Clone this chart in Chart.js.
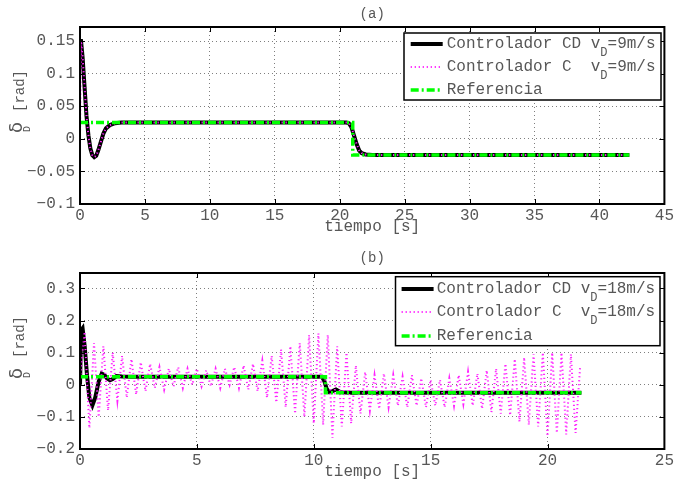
<!DOCTYPE html>
<html>
<head>
<meta charset="utf-8">
<script src="https://cdn.jsdelivr.net/npm/chart.js@4.4.0/dist/chart.umd.min.js"></script>
<style>
body{margin:0;background:#fff;}
canvas{display:block;}
</style>
</head>
<body>
<canvas id="chartA" width="676" height="244"></canvas>
<canvas id="chartB" width="676" height="244"></canvas>
<script>
// (a) vD = 9 m/s
const tA = [0, 0.08, 0.2, 0.35, 0.5, 0.65, 0.8, 0.95, 1.1, 1.25, 1.4, 1.6, 1.8, 2.0, 2.3, 2.7, 3.2, 20.5, 20.7, 20.9, 21.1, 21.3, 21.5, 21.7, 22.0, 22.5, 42.3]
const cdA = [0.15, 0.15, 0.125, 0.08, 0.035, 0.005, -0.015, -0.025, -0.028, -0.026, -0.018, -0.005, 0.008, 0.016, 0.021, 0.024, 0.025, 0.025, 0.024, 0.018, 0.005, -0.008, -0.018, -0.022, -0.024, -0.025, -0.025]
const cA = [0, 0.15, 0.125, 0.08, 0.035, 0.005, -0.015, -0.025, -0.028, -0.026, -0.018, -0.005, 0.008, 0.016, 0.021, 0.024, 0.025, 0.025, 0.024, 0.018, 0.005, -0.008, -0.018, -0.022, -0.024, -0.025, -0.025]
const tRefA = [0, 21.0, 21.0, 42.3]
const refA = [0.025, 0.025, -0.025, -0.025]

// (b) vD = 18 m/s
const tB = [0, 0.05, 0.11, 0.2, 0.3, 0.4, 0.53, 0.65, 0.8, 0.93, 1.05, 1.15, 1.28, 1.4, 1.56, 1.8, 2.2, 10.35, 10.45, 10.55, 10.67, 10.8, 10.95, 11.15, 11.5, 12.0, 21.45]
const cdB = [0, 0.17, 0.176, 0.12, 0.03, -0.04, -0.064, -0.04, 0.01, 0.035, 0.03, 0.02, 0.014, 0.018, 0.027, 0.026, 0.025, 0.025, 0.012, -0.012, -0.023, -0.02, -0.015, -0.023, -0.025, -0.025, -0.025]
const tCB = [0, 0.2, 0.4, 0.6, 0.8, 1.0, 1.2, 1.4, 1.6, 1.8, 2.0, 2.2, 2.4, 2.6, 2.8, 3.0, 3.2, 3.4, 3.6, 3.8,
  4.0, 4.2, 4.4, 4.6, 4.8, 5.0, 5.2, 5.4, 5.6, 5.8, 6.0, 6.2, 6.4, 6.6, 6.8, 7.0, 7.2, 7.4, 7.6, 7.8,
  8.0, 8.2, 8.4, 8.6, 8.8, 9.0, 9.2, 9.4, 9.6, 9.8, 10.0, 10.2, 10.4, 10.6, 10.8, 11.0, 11.2, 11.4, 11.6, 11.8,
  12.0, 12.2, 12.4, 12.6, 12.8, 13.0, 13.2, 13.4, 13.6, 13.8, 14.0, 14.2, 14.4, 14.6, 14.8, 15.0, 15.2, 15.4, 15.6, 15.8,
  16.0, 16.2, 16.4, 16.6, 16.8, 17.0, 17.2, 17.4, 17.6, 17.8, 18.0, 18.2, 18.4, 18.6, 18.8, 19.0, 19.2, 19.4, 19.6, 19.8,
  20.0, 20.2, 20.4, 20.6, 20.8, 21.0, 21.2, 21.4]
const cB = [0.02, 0.165, -0.135, 0.13, -0.1, 0.12, -0.08, 0.1, -0.05, 0.09, -0.04, 0.08, -0.03, 0.07, -0.02, 0.065, -0.01, 0.055, -0.015, 0.05,
  -0.005, 0.055, -0.01, 0.05, 0, 0.05, -0.005, 0.045, -0.005, 0.05, -0.01, 0.05, 0, 0.055, -0.01, 0.06, -0.015, 0.065, -0.02, 0.075,
  -0.04, 0.09, -0.055, 0.11, -0.07, 0.12, -0.09, 0.13, -0.1, 0.155, -0.12, 0.16, -0.125, 0.155, -0.165, 0.12, -0.13, 0.1, -0.12, 0.06,
  -0.09, 0.04, -0.08, 0.03, -0.075, 0.035, -0.07, 0.03, -0.065, 0.025, -0.07, 0.03, -0.065, 0.02, -0.07, 0.015, -0.065, 0.015, -0.07, 0.02,
  -0.065, 0.03, -0.06, 0.04, -0.065, 0.035, -0.075, 0.045, -0.085, 0.05, -0.09, 0.065, -0.095, 0.08, -0.115, 0.085, -0.125, 0.095, -0.13, 0.1,
  -0.16, 0.1, -0.15, 0.1, -0.155, 0.095, -0.15, 0.06]
const tRefB = [0, 10.5, 10.5, 21.45]
const refB = [0.025, 0.025, -0.025, -0.025]

const labelsA = [['Controlador CD v', 'D', '=9m/s'], ['Controlador C  v', 'D', '=9m/s'], ['Referencia', '', '']]
const labelsB = [['Controlador CD v', 'D', '=18m/s'], ['Controlador C  v', 'D', '=18m/s'], ['Referencia', '', '']]

const FONT = "'Liberation Mono', 'DejaVu Sans Mono', monospace"
const TXT = '#575757'

const pts = function (xs, ys) {
  return xs.map((x, i) => ({ x: x, y: ys[i] }))
}

const fmt = function (v) {
  const r = Math.round(v * 1000) / 1000
  return String(r).replace('-', '\u2212')
}

const decor = {
  id: 'decor',
  afterDraw(chart, args, o) {
    const ctx = chart.ctx
    const a = chart.chartArea
    const xs = chart.scales.x
    const ys = chart.scales.y
    ctx.save()

    // matlab style inward ticks
    ctx.strokeStyle = '#000'
    ctx.lineWidth = 1
    ctx.setLineDash([])
    ctx.beginPath()
    for (const t of xs.ticks) {
      const px = Math.round(xs.getPixelForValue(t.value)) + 0.5
      ctx.moveTo(px, a.bottom); ctx.lineTo(px, a.bottom - 5)
      ctx.moveTo(px, a.top); ctx.lineTo(px, a.top + 5)
    }
    for (const t of ys.ticks) {
      const py = Math.round(ys.getPixelForValue(t.value)) + 0.5
      ctx.moveTo(a.left, py); ctx.lineTo(a.left + 5, py)
      ctx.moveTo(a.right, py); ctx.lineTo(a.right - 5, py)
    }
    ctx.stroke()

    // legend
    const lg = o.legend
    ctx.fillStyle = '#fff'
    ctx.fillRect(lg.x, lg.y, lg.w, lg.h)
    ctx.strokeStyle = '#000'
    ctx.lineWidth = 1.5
    ctx.strokeRect(lg.x, lg.y, lg.w, lg.h)
    lg.labels.forEach((lab, i) => {
      const y = Math.round(lg.y + lg.first + i * lg.step)
      const ds = chart.data.datasets[i]
      ctx.strokeStyle = ds.borderColor
      ctx.lineWidth = ds.borderWidth
      ctx.setLineDash(ds.borderDash || [])
      ctx.beginPath()
      ctx.moveTo(lg.s0, y); ctx.lineTo(lg.s1, y)
      ctx.stroke()
      ctx.setLineDash([])
      ctx.fillStyle = TXT
      ctx.textBaseline = 'middle'
      ctx.textAlign = 'left'
      ctx.font = '16px ' + FONT
      ctx.fillText(lab[0], lg.tx, y)
      let x = lg.tx + ctx.measureText(lab[0]).width
      if (lab[1]) {
        ctx.font = '12px ' + FONT
        ctx.fillText(lab[1], x, y + 8.5)
        x += ctx.measureText(lab[1]).width
        ctx.font = '16px ' + FONT
        ctx.fillText(lab[2], x, y)
      }
    })

    // box
    ctx.strokeStyle = '#000'
    ctx.lineWidth = 2
    ctx.strokeRect(a.left, a.top, a.width, a.height)

    // title and x label
    ctx.fillStyle = TXT
    ctx.textAlign = 'center'
    ctx.textBaseline = 'middle'
    ctx.font = '14px ' + FONT
    ctx.fillText(o.title, (a.left + a.right) / 2, 14)
    ctx.font = '16px ' + FONT
    ctx.fillText('tiempo [s]', (a.left + a.right) / 2, a.bottom + 23)

    // y label, rotated
    ctx.rotate(-Math.PI / 2)
    ctx.textAlign = 'left'
    ctx.textBaseline = 'alphabetic'
    ctx.font = "18px 'DejaVu Sans', sans-serif"
    ctx.fillText('\u03b4', -(a.top + 106), 22)
    ctx.font = '10px ' + FONT
    ctx.fillText('D', -(a.top + 105), 30)
    ctx.font = '14px ' + FONT
    ctx.fillText('[rad]', -(a.top + 85), 24)
    ctx.restore()
  }
}

const makeChart = function (id, sets, xMax, yMin, yMax, yStep, top, bottom, title, legend) {
  const data = {
    datasets: [
      {
        data: sets[0], borderColor: '#000000', borderWidth: 4, order: 3
      },
      {
        data: sets[1], borderColor: '#ff22ff', borderWidth: 2, borderDash: [1.2, 2.8], order: 2
      },
      {
        data: sets[2], borderColor: '#00ff00', borderWidth: 3.5, borderDash: [8, 3, 2, 3], order: 1
      }
    ]
  }
  const config = {
    type: 'line',
    data: data,
    options: {
      responsive: false,
      animation: false,
      events: [],
      elements: { point: { radius: 0 }, line: { tension: 0, fill: false } },
      layout: { padding: { top: top, right: 10, left: 0, bottom: 0 } },
      scales: {
        x: {
          type: 'linear', min: 0, max: xMax,
          afterFit: s => { s.height = 244 - bottom },
          ticks: { stepSize: 5, includeBounds: false, padding: 2, color: TXT, font: { family: FONT, size: 16 }, maxRotation: 0 },
          grid: { color: 'rgba(0,0,0,0.5)', drawTicks: false, lineWidth: 1 },
          border: { display: false, dash: [1, 3] }
        },
        y: {
          type: 'linear', min: yMin, max: yMax,
          afterFit: s => { s.width = 80 },
          ticks: { stepSize: yStep, includeBounds: false, padding: 5, color: TXT, font: { family: FONT, size: 16 }, callback: v => fmt(v) },
          grid: { color: 'rgba(0,0,0,0.5)', drawTicks: false, lineWidth: 1 },
          border: { display: false, dash: [1, 3] }
        }
      },
      plugins: {
        legend: { display: false },
        tooltip: { enabled: false },
        decor: { title: title, legend: legend }
      }
    },
    plugins: [decor]
  }
  return new Chart(document.getElementById(id), config)
}

makeChart('chartA', [pts(tA, cdA), pts(tA, cA), pts(tRefA, refA)], 45, -0.1, 0.1715, 0.05, 27, 204, '(a)',
  { x: 404, y: 33, w: 257, h: 67, first: 11.3, step: 23, s0: 410.7, s1: 442.7, tx: 446.7, labels: labelsA })
makeChart('chartB', [pts(tB, cdB), pts(tCB, cB), pts(tRefB, refB)], 25, -0.2, 0.348, 0.1, 29, 205, '(b)',
  { x: 395.5, y: 32.7, w: 264.5, h: 69, first: 12.3, step: 23.3, s0: 401.6, s1: 433.6, tx: 436.7, labels: labelsB })
</script>
</body>
</html>
